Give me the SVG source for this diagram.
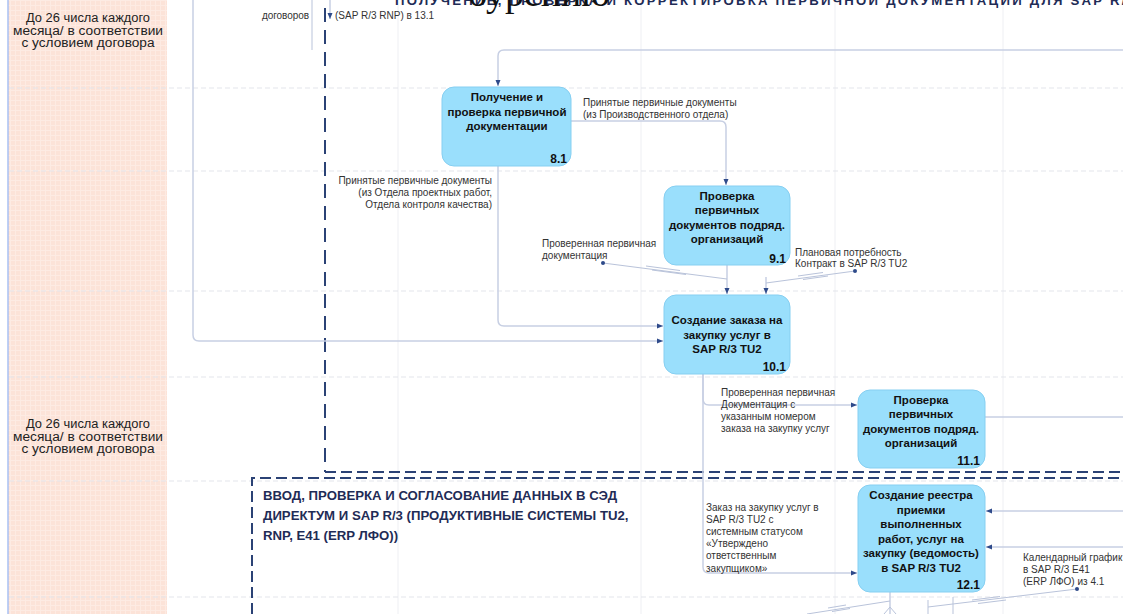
<svg xmlns="http://www.w3.org/2000/svg" width="1123" height="614" viewBox="0 0 1123 614">
<style>
.lbl{font-family:"Liberation Sans",Arial,sans-serif;font-size:10px;fill:#333}
.nt{font-family:"Liberation Sans",Arial,sans-serif;font-size:11.5px;font-weight:bold;fill:#111;text-anchor:middle}
.nid{font-family:"Liberation Sans",Arial,sans-serif;font-size:12px;font-weight:bold;fill:#111;text-anchor:end}
.box{fill:#9ADFFC;stroke:#86CFF1;stroke-width:1}
.con{fill:none;stroke:#C7CFE3;stroke-width:1.5}
.thin{fill:none;stroke:#B9C3DA;stroke-width:1}
.grid{stroke:#E3E5EB;stroke-width:1;stroke-dasharray:5 3}
.vgrid{stroke:#EEEFF3;stroke-width:1}
.bnd{fill:none;stroke:#2B4275;stroke-width:2}
.side{font-family:"Liberation Sans",Arial,sans-serif;font-size:12.5px;fill:#222;text-anchor:middle}
.title{font-family:"Liberation Sans",Arial,sans-serif;font-size:13.2px;font-weight:bold;fill:#1F2C56}
.dot{fill:#2E4A8A}
</style>
<defs>
<pattern id="pg" width="5" height="5" patternUnits="userSpaceOnUse">
<rect width="5" height="5" fill="#FCE3D8"/>
<path d="M0 0.5H5M0.5 0V5" stroke="#FDEBE3" stroke-width="1"/>
</pattern>
<marker id="ar" markerWidth="6" markerHeight="6" refX="6" refY="3" orient="auto" markerUnits="userSpaceOnUse">
<path d="M0,0.5 L6,3 L0,5.5 z" fill="#2E4A8A"/>
</marker>
</defs>
<rect width="1123" height="614" fill="#FFFFFF"/>
<g id="background">
<rect x="8" y="0" width="159" height="614" fill="url(#pg)"/>
<line x1="8" y1="0" x2="8" y2="614" stroke="#A9C1F3" stroke-width="1.5"/>
<line class="vgrid" x1="398" y1="0" x2="398" y2="614"/>
<line class="vgrid" x1="641" y1="0" x2="641" y2="614"/>
<line class="vgrid" x1="835" y1="0" x2="835" y2="614"/>
<line class="vgrid" x1="1003" y1="0" x2="1003" y2="614"/>
<line class="grid" x1="9" y1="88" x2="1123" y2="88"/>
<line class="grid" x1="9" y1="171" x2="1123" y2="171"/>
<line class="grid" x1="9" y1="291" x2="1123" y2="291"/>
<line class="grid" x1="9" y1="377" x2="1123" y2="377"/>
<line class="grid" x1="9" y1="481" x2="1123" y2="481"/>
<line class="grid" x1="9" y1="597" x2="1123" y2="597"/>
<text class="side"><tspan x="88" y="22" textLength="124" lengthAdjust="spacingAndGlyphs">До 26 числа каждого</tspan><tspan x="88" y="34.5" textLength="150" lengthAdjust="spacingAndGlyphs">месяца/ в соответствии</tspan><tspan x="88" y="47" textLength="133" lengthAdjust="spacingAndGlyphs">с условием договора</tspan></text>
<text class="side"><tspan x="88" y="428" textLength="124" lengthAdjust="spacingAndGlyphs">До 26 числа каждого</tspan><tspan x="88" y="440.5" textLength="150" lengthAdjust="spacingAndGlyphs">месяца/ в соответствии</tspan><tspan x="88" y="453" textLength="133" lengthAdjust="spacingAndGlyphs">с условием договора</tspan></text>
</g>
<g id="groups">
<line class="bnd" x1="325" y1="8" x2="325" y2="472" stroke-dasharray="14 8"/>
<line class="bnd" x1="325" y1="472" x2="1123" y2="472" stroke-dasharray="11 5"/>
<path class="bnd" d="M252,614 V478 H1123" stroke-dasharray="11 5"/>
<text class="title" x="395" y="5" font-size="16" textLength="740" lengthAdjust="spacing">ПОЛУЧЕНИЕ, ПРОВЕРКА И КОРРЕКТИРОВКА ПЕРВИЧНОЙ ДОКУМЕНТАЦИИ ДЛЯ SAP R/3</text>
<text x="468" y="6" font-family="Liberation Serif,serif" font-size="38" fill="#111">бурению</text>
<text class="title"><tspan x="263" y="500">ВВОД, ПРОВЕРКА И СОГЛАСОВАНИЕ ДАННЫХ В СЭД</tspan><tspan x="263" y="520">ДИРЕКТУМ И SAP R/3 (ПРОДУКТИВНЫЕ СИСТЕМЫ TU2,</tspan><tspan x="263" y="540">RNP, E41 (ERP ЛФО))</tspan></text>
</g>
<g id="connectors">
<line class="thin" x1="312" y1="0" x2="312" y2="50"/>
<path class="con" d="M330,0 V19" marker-end="url(#ar)"/>
<path class="con" d="M1123,50 H504 Q498,50 498,56 V86" marker-end="url(#ar)"/>
<path class="con" d="M571,121 H720 Q726,121 726,127 V185" marker-end="url(#ar)"/>
<path class="con" d="M498,166 V320 Q498,326 504,326 H663" marker-end="url(#ar)"/>
<path class="con" d="M193,0 V335 Q193,341 199,341 H663" marker-end="url(#ar)"/>
<path class="con" d="M727,265 V294" marker-end="url(#ar)"/>
<path class="con" d="M766,277 V294" marker-end="url(#ar)"/>
<path class="thin" d="M603,263 L727,279"/>
<path class="thin" d="M646,266 L680,270.5 M652,270 L686,274.5"/>
<path class="thin" d="M855,271 L766,283"/>
<path class="thin" d="M798,276 L823,272.5 M803,279.5 L828,276"/>
<path class="con" d="M703,374 V399 Q703,405 709,405 H857" marker-end="url(#ar)"/>
<path class="con" d="M703,374 V567 Q703,573 709,573 H857" marker-end="url(#ar)"/>
<path class="con" d="M985,417 H1123"/>
<path class="con" d="M1123,511 H986" marker-end="url(#ar)"/>
<path class="con" d="M1123,547 H986" marker-end="url(#ar)"/>
<path class="con" d="M890,592 V614"/>
<path class="thin" d="M890,607 L884,614 M890,607 L896,614"/>
<path class="thin" d="M928,600 V614 M953,597 V614"/>
<path class="thin" d="M1077,589 L928,607"/>
<path class="thin" d="M972,600 L1000,596.5 M978,603.5 L1006,600"/>
<path class="thin" d="M807,614 L890,601"/>
<path class="thin" d="M828,608 L846,605 M832,611.5 L850,608.5"/>
<circle class="dot" cx="603" cy="263" r="2"/>
<circle class="dot" cx="855" cy="271" r="2"/>
<circle class="dot" cx="1077" cy="589" r="2"/>
</g>
<g id="labels">
<text class="lbl" x="262" y="19" textLength="47">договоров</text>
<text class="lbl" x="335" y="19">(SAP R/3 RNP) в 13.1</text>
<text class="lbl"><tspan x="583" y="105.5">Принятые первичные документы</tspan><tspan x="583" y="117.5">(из Производственного отдела)</tspan></text>
<text class="lbl" text-anchor="end"><tspan x="492" y="184">Принятые первичные документы</tspan><tspan x="492" y="196">(из Отдела проектных работ,</tspan><tspan x="492" y="208">Отдела контроля качества)</tspan></text>
<text class="lbl"><tspan x="542" y="246.5">Проверенная первичная</tspan><tspan x="542" y="258.5">документация</tspan></text>
<text class="lbl"><tspan x="795" y="255.5">Плановая потребность</tspan><tspan x="795" y="267">Контракт в SAP R/3 TU2</tspan></text>
<text class="lbl"><tspan x="721" y="395.5">Проверенная первичная</tspan><tspan x="721" y="407.8">Документация с</tspan><tspan x="721" y="420.1">указанным номером</tspan><tspan x="721" y="432.4">заказа на закупку услуг</tspan></text>
<text class="lbl"><tspan x="706" y="510.5">Заказ на закупку услуг в</tspan><tspan x="706" y="522.7">SAP R/3 TU2 с</tspan><tspan x="706" y="534.9">системным статусом</tspan><tspan x="706" y="547.1">«Утверждено</tspan><tspan x="706" y="559.3">ответственным</tspan><tspan x="706" y="571.5">закупщиком»</tspan></text>
<text class="lbl"><tspan x="1023" y="560.5">Календарный график</tspan><tspan x="1023" y="572.8">в SAP R/3 E41</tspan><tspan x="1023" y="585">(ERP ЛФО) из 4.1</tspan></text>
</g>
<g id="node-8-1">
<rect class="box" x="442" y="87" width="129" height="79" rx="12"/>
<text class="nt"><tspan x="507" y="101">Получение и</tspan><tspan x="507" y="115.5">проверка первичной</tspan><tspan x="507" y="130">документации</tspan></text>
<text class="nid" x="567" y="163">8.1</text>
</g>
<g id="node-9-1">
<rect class="box" x="664" y="186" width="126" height="79" rx="12"/>
<text class="nt"><tspan x="727" y="199.5">Проверка</tspan><tspan x="727" y="214">первичных</tspan><tspan x="727" y="228.5">документов подряд.</tspan><tspan x="727" y="243">организаций</tspan></text>
<text class="nid" x="786" y="263">9.1</text>
</g>
<g id="node-10-1">
<rect class="box" x="664" y="295" width="126" height="79" rx="12"/>
<text class="nt"><tspan x="727" y="324">Создание заказа на</tspan><tspan x="727" y="338.5">закупку услуг в</tspan><tspan x="727" y="353">SAP R/3 TU2</tspan></text>
<text class="nid" x="786" y="371">10.1</text>
</g>
<g id="node-11-1">
<rect class="box" x="858" y="390" width="127" height="78" rx="12"/>
<text class="nt"><tspan x="921" y="403.5">Проверка</tspan><tspan x="921" y="418">первичных</tspan><tspan x="921" y="432.5">документов подряд.</tspan><tspan x="921" y="447">организаций</tspan></text>
<text class="nid" x="980" y="465">11.1</text>
</g>
<g id="node-12-1">
<rect class="box" x="858" y="485" width="127" height="107" rx="12"/>
<text class="nt"><tspan x="921" y="499">Создание реестра</tspan><tspan x="921" y="513.5">приемки</tspan><tspan x="921" y="528">выполненных</tspan><tspan x="921" y="542.5">работ, услуг на</tspan><tspan x="921" y="557">закупку (ведомость)</tspan><tspan x="921" y="571.5">в SAP R/3 TU2</tspan></text>
<text class="nid" x="980" y="589">12.1</text>
</g>
</svg>
